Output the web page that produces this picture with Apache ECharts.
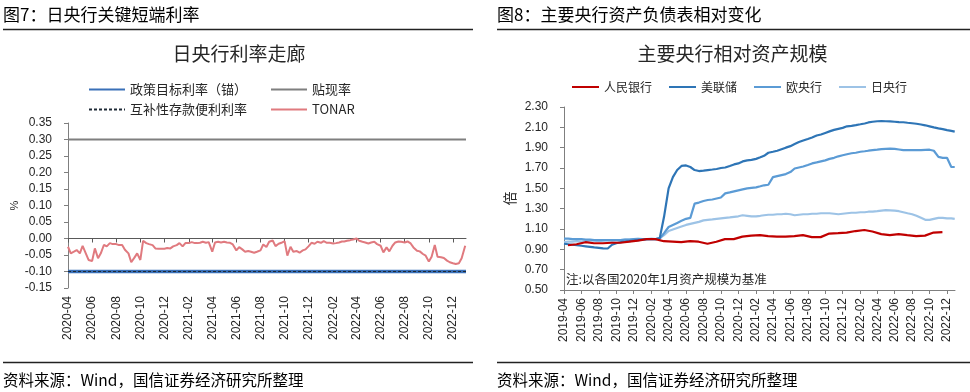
<!DOCTYPE html>
<html><head><meta charset="utf-8">
<script src="https://cdn.jsdelivr.net/npm/echarts@6/dist/echarts.min.js"></script>
<style>html,body{margin:0;padding:0;background:#fff}#c{width:970px;height:392px}</style>
</head><body><div id="c"></div>
<script>
// ================= DATA: Figure 7 (BOJ rate corridor) =================
const fig7Title = '图7：日央行关键短端利率';
const chart7Title = '日央行利率走廊';
const rateNames = ['政策目标利率（锚）', '贴现率', '互补性存款便利利率', 'TONAR'];
const flatDates = ['2020-04-01', '2023-01-03'];
const policyRate = [-0.10, -0.10];
const discountRate = [0.30, 0.30];
const complementaryRate = [-0.10, -0.10];
// TONAR sampled four times a month (days 1, 8, 16, 23) from 2020-04, last point 2023-01-01
const tonarDays = [1, 8, 16, 23];
const tonarStartMonth = '2020-04';
const tonarValues = [
  -0.025, -0.045, -0.040, -0.035,
  -0.045, -0.022, -0.045, -0.065,
  -0.068, -0.030, -0.060, -0.045,
  -0.019, -0.024, -0.014, -0.017,
  -0.017, -0.020, -0.020, -0.034,
  -0.045, -0.072, -0.058, -0.045,
  -0.065, -0.007, -0.014, -0.017,
  -0.020, -0.030, -0.031, -0.031,
  -0.031, -0.029, -0.030, -0.024,
  -0.020, -0.014, -0.024, -0.014,
  -0.014, -0.011, -0.014, -0.014,
  -0.013, -0.010, -0.013, -0.011,
  -0.040, -0.012, -0.010, -0.012,
  -0.010, -0.012, -0.013, -0.018,
  -0.036, -0.026, -0.033, -0.040,
  -0.038, -0.040, -0.043, -0.040,
  -0.036, -0.018, -0.026, -0.010,
  -0.006, -0.023, -0.016, -0.013,
  -0.008, -0.052, -0.025, -0.040,
  -0.038, -0.043, -0.036, -0.033,
  -0.023, -0.013, -0.016, -0.010,
  -0.013, -0.008, -0.013, -0.013,
  -0.015, -0.014, -0.012, -0.009,
  -0.009, -0.007, -0.005, -0.003,
   0.000, -0.007, -0.010, -0.012,
  -0.015, -0.012, -0.010, -0.017,
  -0.022, -0.042, -0.027, -0.039,
  -0.022, -0.012, -0.009, -0.010,
  -0.012, -0.009, -0.015, -0.027,
  -0.037, -0.039, -0.047, -0.052,
  -0.070, -0.055, -0.020, -0.055,
  -0.057, -0.059, -0.067, -0.072,
  -0.075, -0.077, -0.075, -0.060,
  -0.022
];
const rateYTicks = [-0.15, -0.10, -0.05, 0.00, 0.05, 0.10, 0.15, 0.20, 0.25, 0.30, 0.35];
const rateXTicks = ['2020-04','2020-06','2020-08','2020-10','2020-12','2021-02','2021-04','2021-06','2021-08','2021-10','2021-12','2022-02','2022-04','2022-06','2022-08','2022-10','2022-12'];
const rateXRange = ['2020-04-01', '2023-01-03'];

// ================= DATA: Figure 8 (relative balance-sheet size) =================
const fig8Title = '图8：主要央行资产负债表相对变化';
const chart8Title = '主要央行相对资产规模';
const bankNames = ['人民银行', '美联储', '欧央行', '日央行'];
const noteText = '注:以各国2020年1月资产规模为基准';
// semi-monthly points (day 1 and 16) from 2019-04, plus a final point on 2022-12-28
const semiStartMonth = '2019-04';
const semiLastDate = '2022-12-28';
const fedValues = [
  0.955, 0.950, 0.945, 0.940, 0.935, 0.930, 0.925, 0.920, 0.915, 0.910,
  0.908, 0.945, 0.960, 0.970, 0.975, 0.980, 0.985, 0.990, 0.995, 1.000,
  1.000, 1.000, 1.010, 1.220, 1.500, 1.610, 1.680, 1.720, 1.725, 1.710,
  1.680, 1.670, 1.675, 1.680, 1.685, 1.690, 1.700, 1.705, 1.720, 1.735,
  1.745, 1.765, 1.775, 1.780, 1.790, 1.805, 1.820, 1.850, 1.860, 1.870,
  1.885, 1.900, 1.915, 1.935, 1.955, 1.970, 1.985, 2.000, 2.020, 2.030,
  2.045, 2.060, 2.075, 2.085, 2.095, 2.110, 2.115, 2.122, 2.130, 2.138,
  2.148, 2.155, 2.160, 2.162, 2.160, 2.158, 2.155, 2.152, 2.150, 2.145,
  2.140, 2.135, 2.128, 2.120, 2.110, 2.100, 2.090, 2.082, 2.072, 2.065,
  2.058
];
const ecbValues = [
  1.005, 1.005, 1.000, 1.000, 1.000, 0.995, 0.995, 0.990, 0.990, 0.990,
  0.990, 0.990, 0.990, 0.990, 0.995, 0.995, 1.000, 1.000, 1.000, 1.000,
  1.000, 1.000, 1.005, 1.060, 1.120, 1.140, 1.160, 1.180, 1.200, 1.210,
  1.350, 1.360, 1.375, 1.385, 1.390, 1.400, 1.410, 1.450, 1.460, 1.470,
  1.480, 1.490, 1.500, 1.505, 1.510, 1.520, 1.530, 1.535, 1.610, 1.620,
  1.630, 1.640, 1.660, 1.695, 1.705, 1.715, 1.730, 1.745, 1.755, 1.765,
  1.775, 1.790, 1.800, 1.815, 1.825, 1.835, 1.845, 1.850, 1.860, 1.865,
  1.870, 1.875, 1.880, 1.885, 1.888, 1.890, 1.888, 1.882, 1.876, 1.875,
  1.875, 1.875, 1.875, 1.878, 1.880, 1.870, 1.810, 1.800, 1.800, 1.710,
  1.710
];
const bojValues = [
  0.970, 0.975, 0.975, 0.980, 0.975, 0.980, 0.985, 0.985, 0.980, 0.985,
  0.990, 0.985, 0.990, 0.990, 0.995, 0.995, 1.000, 1.005, 1.000, 1.000,
  1.005, 1.000, 1.010, 1.040, 1.080, 1.095, 1.110, 1.125, 1.140, 1.150,
  1.160, 1.170, 1.185, 1.190, 1.195, 1.200, 1.205, 1.210, 1.215, 1.220,
  1.225, 1.235, 1.230, 1.225, 1.225, 1.230, 1.235, 1.240, 1.240, 1.245,
  1.245, 1.250, 1.245, 1.235, 1.240, 1.245, 1.245, 1.250, 1.250, 1.255,
  1.255, 1.255, 1.250, 1.245, 1.250, 1.255, 1.260, 1.260, 1.265, 1.265,
  1.270, 1.270, 1.275, 1.280, 1.285, 1.283, 1.280, 1.275, 1.265, 1.255,
  1.245, 1.230, 1.210, 1.190, 1.190, 1.200, 1.210, 1.210, 1.205, 1.205,
  1.200
];
// PBOC monthly from 2019-04 to 2022-11
const pbocStartMonth = '2019-04';
const pbocValues = [
  0.940, 0.950, 0.970, 0.960, 0.960, 0.965, 0.965, 0.975, 0.985, 1.000,
  1.000, 0.980, 0.975, 0.970, 0.980, 0.975, 0.955, 0.975, 1.000, 1.000,
  1.025, 1.035, 1.040, 1.030, 1.025, 1.025, 1.030, 1.040, 1.020, 1.020,
  1.055, 1.060, 1.065, 1.080, 1.090, 1.075, 1.050, 1.040, 1.050, 1.040,
  1.030, 1.035, 1.065, 1.070
];
const sizeYTicks = [0.50, 0.70, 0.90, 1.10, 1.30, 1.50, 1.70, 1.90, 2.10, 2.30];
const sizeXTicks = ['2019-04','2019-06','2019-08','2019-10','2019-12','2020-02','2020-04','2020-06','2020-08','2020-10','2020-12','2021-02','2021-04','2021-06','2021-08','2021-10','2021-12','2022-02','2022-04','2022-06','2022-08','2022-10','2022-12'];
const sizeXRange = ['2019-04-01', '2022-12-29'];

const sourceText = '资料来源：Wind，国信证券经济研究所整理';

// ================= helpers =================
function pad(n) { return (n < 10 ? '0' : '') + n; }
function monthList(start, count) {
  let [y, m] = start.split('-').map(Number);
  const out = [];
  for (let i = 0; i < count; i++) { out.push(y + '-' + pad(m)); m++; if (m > 12) { m = 1; y++; } }
  return out;
}
function toTime(s) { const p = s.split('-').map(Number); return Date.UTC(p[0], p[1] - 1, p[2] || 1); }
function tsToYM(v) { const d = new Date(Math.round(v)); return d.getUTCFullYear() + '-' + pad(d.getUTCMonth() + 1); }
function zip(dates, vals) { return vals.map((v, i) => [toTime(dates[i]), v]); }

const tonarDates = [];
monthList(tonarStartMonth, Math.ceil(tonarValues.length / 4)).forEach(ym => {
  tonarDays.forEach(d => { if (tonarDates.length < tonarValues.length) tonarDates.push(ym + '-' + pad(d)); });
});
const semiDates = [];
monthList(semiStartMonth, Math.ceil((fedValues.length - 1) / 2)).forEach(ym => { semiDates.push(ym + '-01'); semiDates.push(ym + '-16'); });
semiDates.length = fedValues.length - 1;
semiDates.push(semiLastDate);
const pbocDates = monthList(pbocStartMonth, pbocValues.length).map(ym => ym + '-15');

// ================= chart =================
const CJK = '"Noto Sans CJK SC", "Noto Sans", sans-serif';
const NUM = '"Liberation Sans", Arial, sans-serif';
const txt = '#262626';
const axisC = '#7f7f7f';

const chart = echarts.init(document.getElementById('c'));

const rateTickVals = rateXTicks.map(toTime);
const sizeTickVals = sizeXTicks.map(toTime);

const legendCommon = { selectedMode: false, itemHeight: 10, itemStyle: { opacity: 0, borderWidth: 0 } };

const option = {
  animation: false,
  backgroundColor: '#fff',
  grid: [
    { left: 68, top: 123, width: 398, height: 165 },
    { left: 564, top: 107, width: 391, height: 183 }
  ],
  legend: [
    Object.assign({ left: 83, top: 78, orient: 'vertical', itemWidth: 36, itemGap: 7,
      data: [rateNames[0], rateNames[2]], textStyle: { fontSize: 13, color: txt, fontFamily: CJK } }, legendCommon),
    Object.assign({ left: 265, top: 78, orient: 'vertical', itemWidth: 36, itemGap: 7,
      data: [rateNames[1], rateNames[3]], textStyle: { fontSize: 13, color: txt, fontFamily: CJK } }, legendCommon),
    Object.assign({ left: 566, top: 76, orient: 'horizontal', itemWidth: 27, itemGap: 16,
      data: bankNames, textStyle: { fontSize: 12, color: txt, fontFamily: CJK } }, legendCommon)
  ],
  xAxis: [
    { gridIndex: 0, type: 'value', min: toTime(rateXRange[0]), max: toTime(rateXRange[1]), position: 'bottom',
      axisLine: { show: false, onZero: false }, axisTick: { show: false }, splitLine: { show: false },
      axisLabel: { customValues: rateTickVals, formatter: v => tsToYM(v), rotate: 90, margin: 8, fontSize: 12, color: txt, fontFamily: NUM } },
    { gridIndex: 0, type: 'value', min: toTime(rateXRange[0]), max: toTime(rateXRange[1]), position: 'bottom',
      axisLine: { show: true, onZero: true, lineStyle: { color: '#595959', width: 1 } },
      axisTick: { show: true, customValues: rateTickVals, length: 4, lineStyle: { color: '#595959' } },
      axisLabel: { show: false }, splitLine: { show: false } },
    { gridIndex: 1, type: 'value', min: toTime(sizeXRange[0]), max: toTime(sizeXRange[1]), position: 'bottom',
      axisLine: { show: true, onZero: false, lineStyle: { color: axisC } },
      axisTick: { show: true, customValues: sizeTickVals, length: 4, lineStyle: { color: axisC } },
      splitLine: { show: false },
      axisLabel: { customValues: sizeTickVals, formatter: v => tsToYM(v), rotate: 90, margin: 8, fontSize: 12, color: txt, fontFamily: NUM } }
  ],
  yAxis: [
    { gridIndex: 0, type: 'value', min: -0.15, max: 0.35,
      name: '%', nameLocation: 'middle', nameGap: 48, nameTextStyle: { fontSize: 11, color: txt, fontFamily: NUM },
      axisLine: { show: true, lineStyle: { color: axisC } },
      axisTick: { show: true, customValues: rateYTicks, length: 4, lineStyle: { color: axisC } },
      axisLabel: { customValues: rateYTicks, formatter: v => v.toFixed(2), fontSize: 12, color: txt, fontFamily: NUM, margin: 16 },
      splitLine: { show: false } },
    { gridIndex: 1, type: 'value', min: 0.5, max: 2.3,
      name: '倍', nameLocation: 'middle', nameGap: 47, nameTextStyle: { fontSize: 14, color: txt, fontFamily: CJK },
      axisLine: { show: true, lineStyle: { color: axisC } },
      axisTick: { show: true, customValues: sizeYTicks, length: 4, lineStyle: { color: axisC } },
      axisLabel: { customValues: sizeYTicks, formatter: v => v.toFixed(2), fontSize: 12, color: txt, fontFamily: NUM, margin: 16 },
      splitLine: { show: false } }
  ],
  series: [
    { name: rateNames[1], type: 'line', xAxisIndex: 0, yAxisIndex: 0, symbol: 'none', z: 2,
      data: zip(flatDates, discountRate), lineStyle: { color: '#7f7f7f', width: 2 }, itemStyle: { color: '#7f7f7f' } },
    { name: rateNames[0], type: 'line', xAxisIndex: 0, yAxisIndex: 0, symbol: 'none', z: 3,
      data: zip(flatDates, policyRate), lineStyle: { color: '#3a70b8', width: 3.5 }, itemStyle: { color: '#3a70b8' } },
    { name: rateNames[2], type: 'line', xAxisIndex: 0, yAxisIndex: 0, symbol: 'none', z: 4,
      data: zip(flatDates, complementaryRate), lineStyle: { color: '#1f2a36', width: 1, type: [3, 2] }, itemStyle: { color: '#1f2a36' } },
    { name: rateNames[3], type: 'line', xAxisIndex: 0, yAxisIndex: 0, symbol: 'none', z: 5,
      data: zip(tonarDates, tonarValues), lineStyle: { color: '#e07a7f', width: 2 }, itemStyle: { color: '#e07a7f' } },

    { name: bankNames[3], type: 'line', xAxisIndex: 2, yAxisIndex: 1, symbol: 'none',
      data: zip(semiDates, bojValues), lineStyle: { color: '#9dc3e6', width: 2.2 }, itemStyle: { color: '#9dc3e6' } },
    { name: bankNames[2], type: 'line', xAxisIndex: 2, yAxisIndex: 1, symbol: 'none',
      data: zip(semiDates, ecbValues), lineStyle: { color: '#5b9bd5', width: 2.2 }, itemStyle: { color: '#5b9bd5' } },
    { name: bankNames[1], type: 'line', xAxisIndex: 2, yAxisIndex: 1, symbol: 'none',
      data: zip(semiDates, fedValues), lineStyle: { color: '#2e75b6', width: 2.2 }, itemStyle: { color: '#2e75b6' } },
    { name: bankNames[0], type: 'line', xAxisIndex: 2, yAxisIndex: 1, symbol: 'none',
      data: zip(pbocDates, pbocValues), lineStyle: { color: '#c00000', width: 2.2 }, itemStyle: { color: '#c00000' } }
  ],
  graphic: [
    { type: 'text', x: 3, y: 14.5, style: { text: fig7Title, fontSize: 17, fontFamily: CJK, fill: '#000', align: 'left', verticalAlign: 'middle' } },
    { type: 'text', x: 497, y: 14.5, style: { text: fig8Title, fontSize: 17, fontFamily: CJK, fill: '#000', align: 'left', verticalAlign: 'middle' } },
    { type: 'line', shape: { x1: 3, y1: 29.5, x2: 473, y2: 29.5 }, style: { stroke: '#222', lineWidth: 1.3 } },
    { type: 'line', shape: { x1: 497, y1: 29.5, x2: 970, y2: 29.5 }, style: { stroke: '#222', lineWidth: 1.3 } },
    { type: 'text', x: 239, y: 53.5, style: { text: chart7Title, fontSize: 19, fontFamily: CJK, fill: txt, align: 'center', verticalAlign: 'middle' } },
    { type: 'text', x: 732.5, y: 53.5, style: { text: chart8Title, fontSize: 19, fontFamily: CJK, fill: txt, align: 'center', verticalAlign: 'middle' } },
    { type: 'text', x: 566, y: 279, style: { text: noteText, fontSize: 12.5, fontFamily: CJK, fill: txt, align: 'left', verticalAlign: 'middle' } },
    { type: 'line', shape: { x1: 3, y1: 362.5, x2: 473, y2: 362.5 }, style: { stroke: '#222', lineWidth: 1.3 } },
    { type: 'line', shape: { x1: 497, y1: 362.5, x2: 970, y2: 362.5 }, style: { stroke: '#222', lineWidth: 1.3 } },
    { type: 'text', x: 3, y: 380, style: { text: sourceText, fontSize: 15.5, fontFamily: CJK, fill: '#000', align: 'left', verticalAlign: 'middle' } },
    { type: 'text', x: 497, y: 380, style: { text: sourceText, fontSize: 15.5, fontFamily: CJK, fill: '#000', align: 'left', verticalAlign: 'middle' } }
  ]
};
chart.setOption(option);
</script>
</body></html>
